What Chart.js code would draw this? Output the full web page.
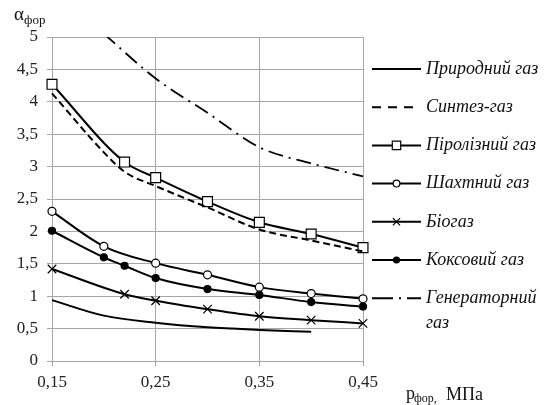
<!DOCTYPE html>
<html>
<head>
<meta charset="utf-8">
<script src="https://cdn.jsdelivr.net/npm/chart.js@4"></script>
<style>
  html, body { margin: 0; padding: 0; background: #fff; }
  #wrap { width: 547px; height: 405px; }
</style>
</head>
<body>
<div id="wrap"><canvas id="chart" width="547" height="405"></canvas></div>
<script>
// pressure values (MPa) per series and alpha values
const xNatural = [0.15, 0.2, 0.25, 0.3, 0.35, 0.4];
const natural = [0.94, 0.70, 0.59, 0.52, 0.48, 0.45];

const xSynth = [0.15, 0.2, 0.22, 0.25, 0.3, 0.35, 0.4, 0.45];
const synth = [4.13, 3.22, 2.92, 2.70, 2.37, 2.03, 1.86, 1.69];

const xPyro = [0.15, 0.22, 0.25, 0.3, 0.35, 0.4, 0.45];
const pyro = [4.27, 3.07, 2.83, 2.46, 2.14, 1.96, 1.75];

const xMine = [0.15, 0.2, 0.25, 0.3, 0.35, 0.4, 0.45];
const mine = [2.31, 1.77, 1.51, 1.33, 1.14, 1.04, 0.96];

const xBio = [0.15, 0.22, 0.25, 0.3, 0.35, 0.4, 0.45];
const bio = [1.42, 1.03, 0.93, 0.80, 0.69, 0.63, 0.58];

const xCoke = [0.15, 0.2, 0.22, 0.25, 0.3, 0.35, 0.4, 0.45];
const coke = [2.01, 1.60, 1.47, 1.28, 1.11, 1.02, 0.91, 0.84];

const xGen = [0.2, 0.25, 0.3, 0.35, 0.4, 0.45];
const gen = [5.05, 4.36, 3.83, 3.30, 3.05, 2.85];

const seriesNames = ['Природний газ', 'Синтез-газ', 'Піролізний газ', 'Шахтний газ', 'Біогаз', 'Коксовий газ', 'Генераторний газ'];
const xTicks = [0.15, 0.25, 0.35, 0.45];

const pts = (xs, ys) => xs.map((x, i) => ({ x: x, y: ys[i] }));
const comma = v => String(Math.round(v * 100) / 100).replace('.', ',');

const serif = '"Liberation Serif", "DejaVu Serif", serif';

const base = {
  borderColor: '#000',
  backgroundColor: '#000',
  borderWidth: 2,
  cubicInterpolationMode: 'monotone',
  pointRadius: 0,
  pointBorderColor: '#000',
  pointBorderWidth: 1.2,
  clip: false
};

const datasets = [
  Object.assign({}, base, { label: seriesNames[0], data: pts(xNatural, natural) }),
  Object.assign({}, base, { label: seriesNames[1], data: pts(xSynth, synth), borderDash: [7, 4], legendDash: [9, 7], legendEnd: 413 }),
  Object.assign({}, base, { label: seriesNames[2], data: pts(xPyro, pyro), pointStyle: 'rect', pointRadius: 7, pointBackgroundColor: '#fff' }),
  Object.assign({}, base, { label: seriesNames[3], data: pts(xMine, mine), pointStyle: 'circle', pointRadius: 4, pointBackgroundColor: '#fff' }),
  Object.assign({}, base, { label: seriesNames[4], data: pts(xBio, bio), pointStyle: 'crossRot', pointRadius: 6, pointBackgroundColor: '#fff' }),
  Object.assign({}, base, { label: seriesNames[5], data: pts(xCoke, coke), pointStyle: 'circle', pointRadius: 3.5, pointBackgroundColor: '#000' }),
  Object.assign({}, base, { label: seriesNames[6], data: pts(xGen, gen), borderWidth: 1.8, borderDash: [15, 6, 2, 6], legendDash: [21, 6, 2, 6], clip: { left: 10, top: 0, right: 10, bottom: 10 } })
];

// legend and axis titles drawn by hand to look like the original figure
const sideLegend = {
  id: 'sideLegend',
  afterDraw(chart) {
    const ctx = chart.ctx;
    ctx.save();
    chart.data.datasets.forEach((ds, i) => {
      const y = 69 + i * 38.2;
      ctx.strokeStyle = '#000';
      ctx.lineWidth = 2;
      ctx.setLineDash(ds.legendDash || []);
      ctx.beginPath();
      ctx.moveTo(372, y);
      ctx.lineTo(ds.legendEnd || 421, y);
      ctx.stroke();
      ctx.setLineDash([]);
      if (ds.pointRadius > 0) {
        ctx.fillStyle = ds.pointBackgroundColor;
        ctx.strokeStyle = '#000';
        ctx.lineWidth = 1.2;
        Chart.helpers.drawPoint(ctx, { pointStyle: ds.pointStyle, radius: ds.pointRadius * 0.85, borderWidth: 1.2, rotation: 0 }, 396.5, y);
      }
      ctx.fillStyle = '#111';
      ctx.font = 'italic 18px ' + serif;
      ctx.textBaseline = 'middle';
      ctx.textAlign = 'left';
      if (i === 6) {
        ctx.fillText('Генераторний', 426, y);
        ctx.fillText('газ', 426, y + 25);
      } else {
        ctx.fillText(ds.label, 426, y);
      }
    });

    ctx.textBaseline = 'alphabetic';
    ctx.fillStyle = '#111';
    ctx.font = '19px ' + serif;
    ctx.fillText('α', 14, 20);
    ctx.font = '13px ' + serif;
    ctx.fillText('фор', 24, 24);

    ctx.font = '18px ' + serif;
    ctx.fillText('p', 406, 399);
    ctx.font = '12px ' + serif;
    ctx.fillText('фор,', 414, 402);
    ctx.font = '18px ' + serif;
    ctx.fillText('МПа', 446, 400);
    ctx.restore();
  }
};

new Chart(document.getElementById('chart'), {
  type: 'line',
  data: { datasets: datasets },
  plugins: [sideLegend],
  options: {
    responsive: false,
    animation: false,
    layout: { padding: { top: 37, right: 184, bottom: 0, left: 0 } },
    plugins: { legend: { display: false }, tooltip: { enabled: false } },
    scales: {
      x: {
        type: 'linear',
        min: 0.15,
        max: 0.45,
        afterBuildTicks: s => { s.ticks = xTicks.map(v => ({ value: v })); },
        afterFit: s => { s.height = 44; },
        grid: { color: '#a6a6a6', lineWidth: 1, tickLength: 5 },
        border: { color: '#a6a6a6' },
        ticks: { color: '#222', font: { family: serif, size: 17 }, padding: 6, maxRotation: 0, callback: v => comma(v) }
      },
      y: {
        min: 0,
        max: 5,
        afterFit: s => { s.width = 52; },
        grid: { color: '#a6a6a6', lineWidth: 1, tickLength: 5 },
        border: { color: '#a6a6a6' },
        ticks: { stepSize: 0.5, color: '#222', font: { family: serif, size: 17 }, padding: 9, callback: v => comma(v) }
      }
    }
  }
});
</script>
</body>
</html>
